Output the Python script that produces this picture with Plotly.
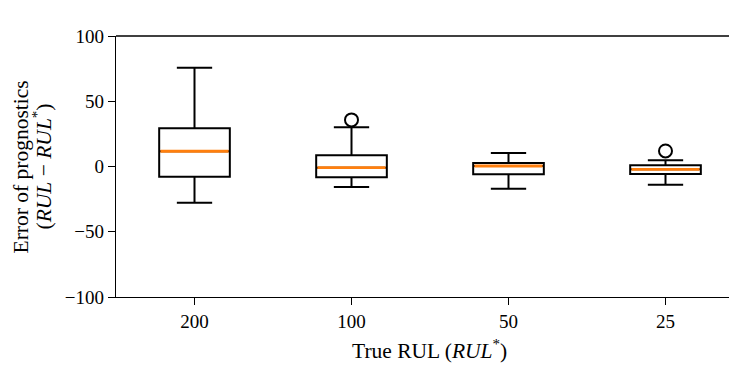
import plotly.graph_objects as go

categories = ["200", "100", "50", "25"]
positions = [1, 2, 3, 4]
q1 = [-7.8, -8.3, -6.0, -5.8]
median = [11.7, -0.9, 0.4, -2.2]
q3 = [29.3, 8.6, 2.7, 0.9]
lower = [-27.8, -15.7, -17.0, -14.0]
upper = [75.6, 30.1, 10.4, 4.7]
outlier_x = [2, 4]
outlier_y = [35.7, 11.9]

box_width = 0.45
FONT = "Liberation Serif"
FS = 19      # tick labels
FT = 21.5    # axis titles

fig = go.Figure()
fig.add_trace(go.Box(
    x=positions, q1=q1, median=median, q3=q3,
    lowerfence=lower, upperfence=upper,
    width=box_width, whiskerwidth=0.5,
    line=dict(color="black", width=2),
    fillcolor="white", boxpoints=False, showlegend=False,
))

# orange median lines
mx, my = [], []
for p, m in zip(positions, median):
    mx += [p - box_width / 2 + 0.008, p + box_width / 2 - 0.008, None]
    my += [m, m, None]
fig.add_trace(go.Scatter(x=mx, y=my, mode="lines",
                         line=dict(color="#ff7f0e", width=2.8),
                         showlegend=False, hoverinfo="skip"))

fig.add_trace(go.Scatter(x=outlier_x, y=outlier_y, mode="markers",
                         marker=dict(symbol="circle-open", size=13,
                                     color="black", line=dict(width=2)),
                         showlegend=False))

# page body has an 8px default margin: figure sized so nothing overflows
fig.update_layout(
    width=729, height=368,
    margin=dict(l=108, r=0, t=28, b=79),
    plot_bgcolor="white", paper_bgcolor="white",
    font=dict(family=FONT, size=FS, color="black"),
    xaxis=dict(range=[0.5, 0.5 + 621 / 157], tickvals=positions, ticktext=categories,
               tickfont=dict(family=FONT, size=FS),
               showline=True, linecolor="black", linewidth=1.3,
               ticks="outside", ticklen=7, tickwidth=1.3, tickcolor="black",
               showgrid=False, zeroline=False, automargin=False),
    yaxis=dict(range=[-100, 100], tickvals=[-100, -50, 0, 50, 100],
               tickfont=dict(family=FONT, size=FS),
               showline=True, linecolor="black", linewidth=1.3,
               ticks="outside", ticklen=7, tickwidth=1.3, tickcolor="black",
               showgrid=False, zeroline=False, automargin=False),
    shapes=[dict(type="line", xref="paper", yref="paper", x0=0, x1=1, y0=1, y1=1,
                 line=dict(color="black", width=1.3))],
    annotations=[
        dict(text="True RUL (<i>RUL</i><sup>*</sup>)", xref="paper", yref="paper",
             x=0.5056, y=-0.203, xanchor="center", yanchor="middle", showarrow=False,
             font=dict(family=FONT, size=FT)),
        dict(text="Error of prognostics", xref="paper", yref="paper",
             x=-0.153, y=0.5, xanchor="center", yanchor="middle", textangle=-90,
             showarrow=False, font=dict(family=FONT, size=FT)),
        dict(text="(<i>RUL</i> − <i>RUL</i><sup>*</sup>)", xref="paper", yref="paper",
             x=-0.1176, y=0.5, xanchor="center", yanchor="middle", textangle=-90,
             showarrow=False, font=dict(family=FONT, size=FT)),
    ],
)

fig.write_html("out.html")
